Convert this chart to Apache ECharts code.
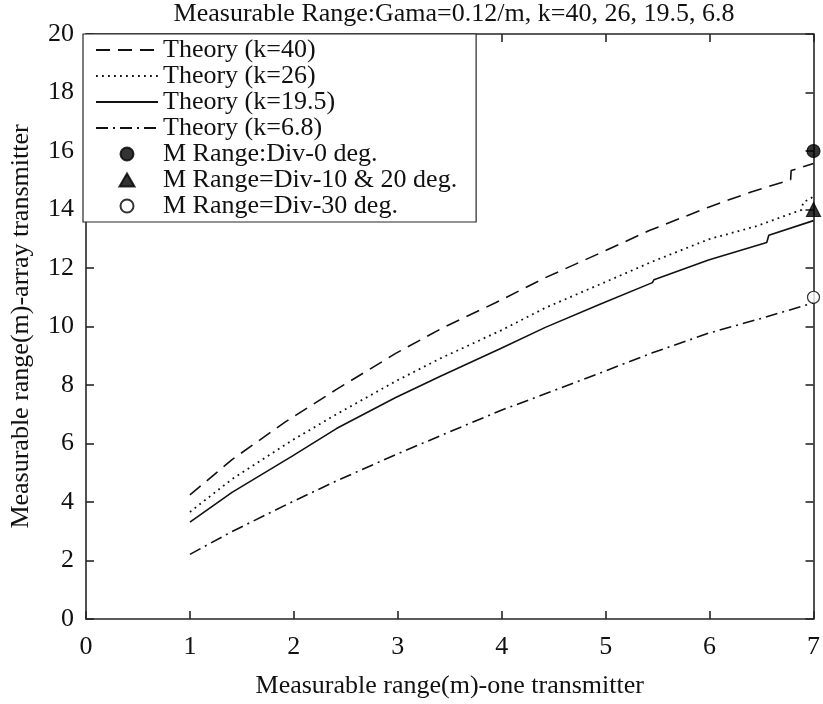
<!DOCTYPE html>
<html>
<head>
<meta charset="utf-8">
<script src="https://cdn.jsdelivr.net/npm/echarts@6/dist/echarts.min.js"></script>
<style>
  html, body { margin: 0; padding: 0; background: #ffffff; }
  #chart { width: 823px; height: 704px; }
</style>
</head>
<body>
<div id="chart"></div>
<script>
// Theoretical measurable range of the array transmitter vs. a single transmitter
const k40X = [1.0, 1.405, 1.915, 2.41, 2.98, 3.44, 3.94, 4.42, 4.99, 5.42, 5.99, 6.4, 6.78, 6.785, 7.0];
const k40Y = [4.24, 5.45, 6.73, 7.85, 9.08, 9.97, 10.81, 11.67, 12.58, 13.28, 14.08, 14.6, 15.02, 15.33, 15.57];

const k26X = [1.0, 1.405, 1.98, 2.41, 2.98, 3.41, 3.99, 4.42, 4.99, 5.45, 5.99, 6.45, 6.886, 6.9, 7.0];
const k26Y = [3.66, 4.78, 6.1, 7.0, 8.13, 8.91, 9.86, 10.64, 11.51, 12.22, 12.98, 13.43, 13.99, 14.24, 14.44];

const k195X = [1.0, 1.405, 1.98, 2.41, 2.98, 3.41, 3.99, 4.42, 4.94, 5.45, 5.465, 5.99, 6.55, 6.57, 7.0];
const k195Y = [3.31, 4.33, 5.56, 6.51, 7.57, 8.30, 9.25, 9.97, 10.75, 11.5, 11.6, 12.27, 12.87, 13.12, 13.62];

const k68X = [1.0, 1.405, 1.98, 2.41, 2.98, 3.44, 3.99, 4.45, 4.99, 5.45, 5.99, 6.5, 7.0];
const k68Y = [2.21, 2.99, 4.0, 4.72, 5.62, 6.31, 7.13, 7.74, 8.47, 9.1, 9.77, 10.28, 10.81];

// Measured ranges at the 7 m single-transmitter point
const measuredX = [7];
const divZeroY = [16];
const divTenTwentyY = [14];
const divThirtyY = [11];

const xTicks = [0, 1, 2, 3, 4, 5, 6, 7];
const yTicks = [0, 2, 4, 6, 8, 10, 12, 14, 16, 18, 20];

const seriesNames = [
  'Theory (k=40)',
  'Theory (k=26)',
  'Theory (k=19.5)',
  'Theory (k=6.8)',
  'M Range:Div-0 deg.',
  'M Range=Div-10 & 20 deg.',
  'M Range=Div-30 deg.'
];

const pairs = (xs, ys) => xs.map((x, i) => [x, ys[i]]);

const FONT = '"Liberation Serif", "Times New Roman", serif';
const INK = '#111111';
const AXIS = '#262626';
// Equilateral triangle outline, kept at its own aspect ratio in the legend
const TRIANGLE = 'path://M5,0L10,8.66L0,8.66Z';

const axisLineStyle = { color: AXIS, width: 1.6 };

function lineSeries(name, xs, ys, type, width) {
  return {
    name: name,
    type: 'line',
    data: pairs(xs, ys),
    symbol: 'none',
    showSymbol: false,
    smooth: false,
    clip: false,
    lineStyle: { color: INK, width: width, type: type },
    itemStyle: { color: INK },
    emphasis: { disabled: true },
    z: 3
  };
}

function markerSeries(name, ys, symbol, size, fill) {
  return {
    name: name,
    type: 'scatter',
    data: pairs(measuredX, ys),
    symbol: symbol,
    symbolSize: size,
    clip: false,
    itemStyle: { color: fill, borderColor: '#000000', borderWidth: 1.2 },
    emphasis: { disabled: true },
    z: 5
  };
}

// Legend entries: line samples only for the theory curves, marker glyphs for measurements
const legendData = seriesNames.map((name, i) => {
  if (i < 4) return { name: name, itemStyle: { opacity: 0 } };
  if (i === 5) return { name: name, icon: TRIANGLE };
  return { name: name };
});

const chart = echarts.init(document.getElementById('chart'), null, { renderer: 'canvas' });

chart.setOption({
  animation: false,
  backgroundColor: '#ffffff',
  title: {
    text: 'Measurable Range:Gama=0.12/m, k=40, 26, 19.5, 6.8',
    left: 449,
    textAlign: 'center',
    top: -4,
    textStyle: { fontFamily: FONT, fontSize: 26, fontWeight: 'normal', color: INK }
  },
  grid: { left: 83, right: 8, top: 34, bottom: 73, containLabel: false },
  legend: {
    orient: 'vertical',
    left: 83,
    top: 34,
    padding: [3, 19, 3, 12],
    itemGap: 0,
    itemWidth: 62,
    itemHeight: 13,
    symbolKeepAspect: true,
    backgroundColor: '#ffffff',
    borderColor: AXIS,
    borderWidth: 1.2,
    borderRadius: 0,
    selectedMode: false,
    data: legendData,
    textStyle: { fontFamily: FONT, fontSize: 26, color: INK },
    z: 10
  },
  xAxis: [
    {
      type: 'value', min: xTicks[0], max: xTicks[xTicks.length - 1], interval: 1,
      position: 'bottom',
      axisLine: { show: true, onZero: false, lineStyle: axisLineStyle },
      axisTick: { show: true, inside: true, length: 8, lineStyle: axisLineStyle },
      axisLabel: { fontFamily: FONT, fontSize: 26, color: INK, margin: 15 },
      splitLine: { show: false },
      name: 'Measurable range(m)-one transmitter',
      nameLocation: 'middle',
      nameGap: 54,
      nameTextStyle: { fontFamily: FONT, fontSize: 26, color: INK }
    },
    {
      type: 'value', min: xTicks[0], max: xTicks[xTicks.length - 1], interval: 1,
      position: 'top',
      axisLine: { show: true, onZero: false, lineStyle: axisLineStyle },
      axisTick: { show: true, inside: true, length: 8, lineStyle: axisLineStyle },
      axisLabel: { show: false },
      splitLine: { show: false }
    }
  ],
  yAxis: [
    {
      type: 'value', min: yTicks[0], max: yTicks[yTicks.length - 1], interval: 2,
      position: 'left',
      axisLine: { show: true, onZero: false, lineStyle: axisLineStyle },
      axisTick: { show: true, inside: true, length: 8, lineStyle: axisLineStyle },
      axisLabel: { fontFamily: FONT, fontSize: 26, color: INK, margin: 12 },
      splitLine: { show: false },
      name: 'Measurable range(m)-array transmitter',
      nameLocation: 'middle',
      nameGap: 52,
      nameTextStyle: { fontFamily: FONT, fontSize: 26, color: INK }
    },
    {
      type: 'value', min: yTicks[0], max: yTicks[yTicks.length - 1], interval: 2,
      position: 'right',
      axisLine: { show: true, onZero: false, lineStyle: axisLineStyle },
      axisTick: { show: true, inside: true, length: 8, lineStyle: axisLineStyle },
      axisLabel: { show: false },
      splitLine: { show: false }
    }
  ],
  series: [
    lineSeries(seriesNames[0], k40X, k40Y, [14, 8], 1.6),
    lineSeries(seriesNames[1], k26X, k26Y, [1.8, 4.2], 1.8),
    lineSeries(seriesNames[2], k195X, k195Y, 'solid', 1.6),
    lineSeries(seriesNames[3], k68X, k68Y, [12, 5, 2, 5], 1.6),
    markerSeries(seriesNames[4], divZeroY, 'circle', 13, '#000000'),
    markerSeries(seriesNames[5], divTenTwentyY, TRIANGLE, 14, '#000000'),
    markerSeries(seriesNames[6], divThirtyY, 'circle', 12, '#ffffff')
  ]
});
</script>
</body>
</html>
